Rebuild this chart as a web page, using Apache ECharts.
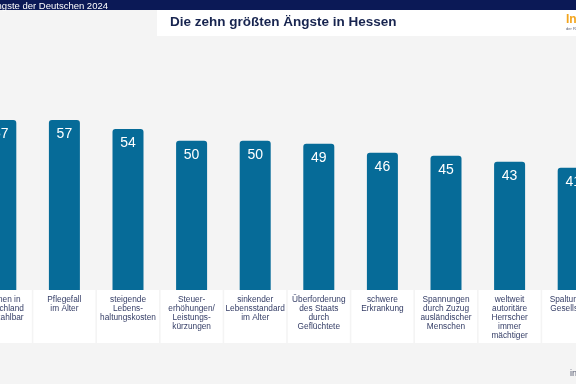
<!DOCTYPE html>
<html>
<head>
<meta charset="utf-8">
<script src="https://cdn.jsdelivr.net/npm/echarts@6/dist/echarts.min.js"></script>
<style>
html,body{margin:0;padding:0;background:#f4f4f4;overflow:hidden;width:576px;height:384px;}
#c{width:640px;height:384px;position:absolute;left:-33px;top:0;}
</style>
</head>
<body>
<div id="c"></div>
<script>
var categories = [
  "Wohnen in\nDeutschland\nunbezahlbar",
  "Pflegefall\nim Alter",
  "steigende\nLebens-\nhaltungskosten",
  "Steuer-\nerhöhungen/\nLeistungs-\nkürzungen",
  "sinkender\nLebensstandard\nim Alter",
  "Überforderung\ndes Staats\ndurch\nGeflüchtete",
  "schwere\nErkrankung",
  "Spannungen\ndurch Zuzug\nausländischer\nMenschen",
  "weltweit\nautoritäre\nHerrscher\nimmer\nmächtiger",
  "Spaltung der\nGesellschaft"
];
var values = [57, 57, 54, 50, 50, 49, 46, 45, 43, 41];

var OX = 33; // offset of the visible window inside the wider canvas
var chart = echarts.init(document.getElementById('c'), null, {renderer: 'canvas'});
chart.setOption({
  backgroundColor: '#f4f4f4',
  animation: false,
  grid: {left: 0, right: 0, top: 111, bottom: 94, containLabel: false},
  xAxis: {
    type: 'category',
    data: categories,
    axisLine: {show: false},
    axisTick: {show: false},
    axisLabel: {
      interval: 0,
      margin: 0,
      color: '#343d66',
      fontFamily: 'Liberation Sans, Arial, sans-serif',
      fontSize: 8.3,
      lineHeight: 9,
      backgroundColor: '#ffffff',
      width: 62,
      height: 48,
      padding: [5, 0, 0, 0],
      align: 'center',
      verticalAlign: 'top'
    }
  },
  yAxis: {
    type: 'value', min: 0, max: 60, show: false,
    splitLine: {show: false}
  },
  series: [{
    type: 'bar',
    data: values,
    barWidth: 31,
    itemStyle: {color: '#066b98', borderRadius: [3, 3, 0, 0]},
    label: {
      show: true,
      position: 'insideTop',
      distance: 7,
      color: '#ffffff',
      fontFamily: 'Liberation Sans, Arial, sans-serif',
      fontSize: 14
    }
  }],
  graphic: [
    {type: 'rect', shape: {x: 0, y: 0, width: 640, height: 10}, style: {fill: '#0b1956'}},
    {type: 'text', x: OX + 108, y: 1, style: {text: 'Die Ängste der Deutschen 2024', fill: '#ffffff', font: '9.5px Liberation Sans, Arial, sans-serif', textAlign: 'right'}},
    {type: 'rect', shape: {x: OX + 157, y: 10, width: 480, height: 26}, style: {fill: '#ffffff'}},
    {type: 'text', x: OX + 170, y: 15, style: {text: 'Die zehn größten Ängste in Hessen', fill: '#17244f', font: 'bold 13.5px Liberation Sans, Arial, sans-serif'}},
    {type: 'text', x: OX + 566, y: 14, style: {text: 'Infocenter', fill: '#f3a41c', font: 'bold 12px Liberation Sans, Arial, sans-serif'}},
    {type: 'text', x: OX + 566, y: 27, style: {text: 'der R+V Versicherung', fill: '#555a70', font: '4px Liberation Sans, Arial, sans-serif'}},
    {type: 'text', x: OX + 570, y: 369, style: {text: 'infocenter', fill: '#555a70', font: '9px Liberation Sans, Arial, sans-serif'}}
  ]
});
</script>
</body>
</html>
